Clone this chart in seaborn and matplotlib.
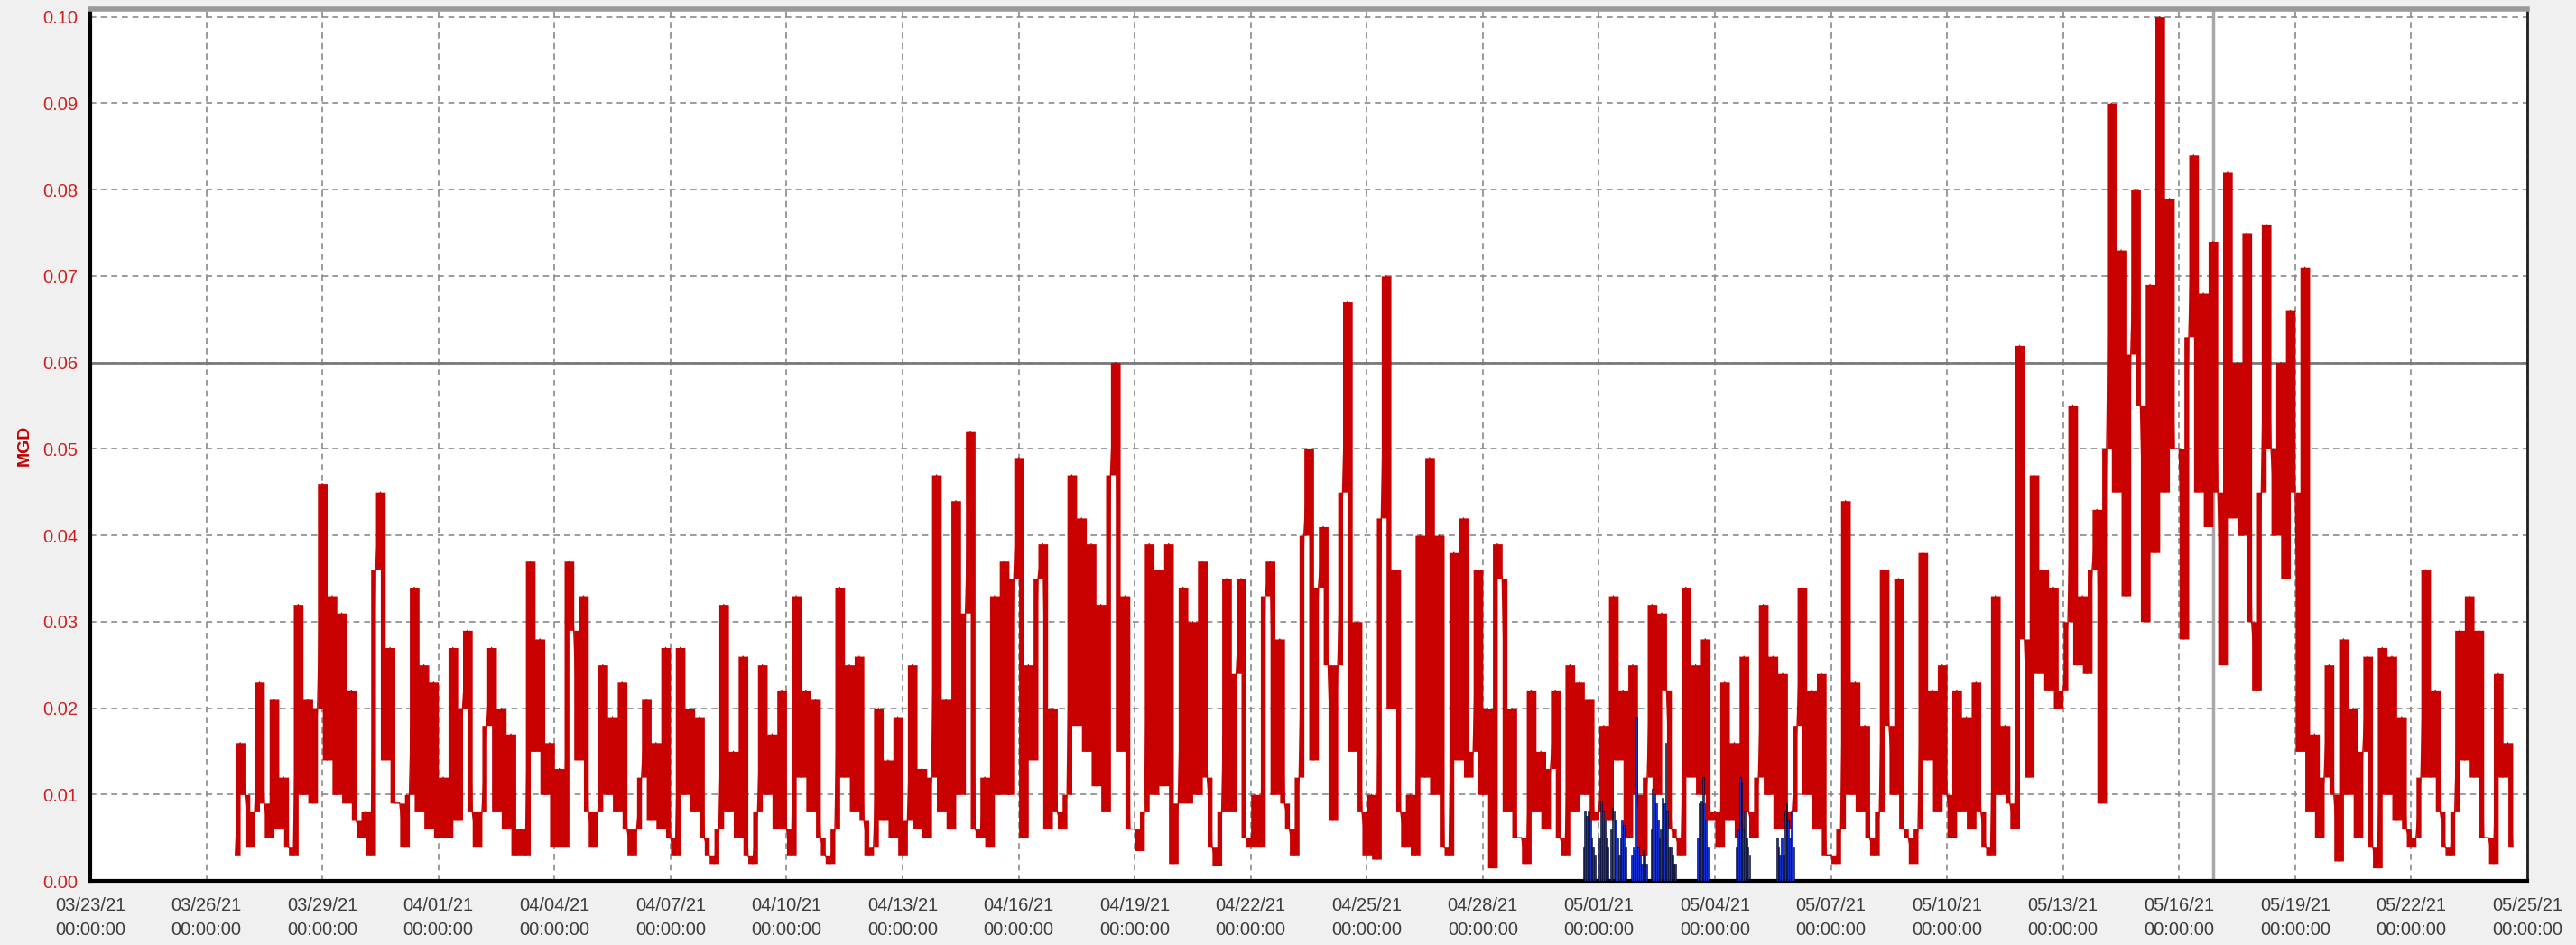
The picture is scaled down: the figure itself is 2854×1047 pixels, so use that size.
import numpy as np
import pandas as pd
import matplotlib
matplotlib.use("Agg")
import matplotlib.pyplot as plt
import matplotlib.dates as mdates
from matplotlib.ticker import FixedLocator, MultipleLocator, FormatStrFormatter
import seaborn as sns

# Flow readings in thousandths of MGD, one value every 3 hours
# (00, 03, 06, 09, 12, 15, 18, 21 h), starting 2021-03-26 18:00.
flow_mar = [
    3, 16,                              # 03/26 (18h, 21h)
    10, 4, 8, 23, 9, 5, 21, 6,          # 03/27
    12, 4, 3, 32, 10, 21, 9, 20,        # 03/28
    46, 14, 33, 10, 31, 9, 22, 7,       # 03/29
    5, 8, 3, 36, 45, 14, 27, 9,         # 03/30
    9, 4, 10, 34, 8, 25, 6, 23,         # 03/31
]
flow_apr = [
    5, 12, 5, 27, 7, 20, 29, 8,         # 04/01
    4, 8, 18, 27, 8, 20, 6, 17,         # 04/02
    3, 6, 3, 37, 15, 28, 10, 16,        # 04/03
    4, 13, 4, 37, 29, 14, 33, 8,        # 04/04
    4, 8, 25, 10, 19, 8, 23, 6,         # 04/05
    3, 6, 12, 21, 7, 16, 6, 27,         # 04/06
    5, 3, 27, 10, 20, 8, 19, 5,         # 04/07
    3, 2, 6, 32, 8, 15, 5, 26,          # 04/08
    3, 2, 8, 25, 10, 17, 6, 22,         # 04/09
    6, 3, 33, 12, 22, 8, 21, 5,         # 04/10
    3, 2, 6, 34, 12, 25, 8, 26,         # 04/11
    7, 3, 4, 20, 7, 14, 5, 19,          # 04/12
    3, 7, 25, 6, 13, 5, 12, 47,         # 04/13
    8, 21, 6, 44, 10, 31, 52, 6,        # 04/14
    5, 12, 4, 33, 10, 37, 10, 35,       # 04/15
    49, 5, 25, 14, 35, 39, 6, 20,       # 04/16
    8, 6, 10, 47, 18, 42, 15, 39,       # 04/17
    11, 32, 8, 47, 60, 15, 33, 6,       # 04/18
    6, 3.5, 8, 39, 10, 36, 11, 39,      # 04/19
    2, 9, 34, 9, 30, 10, 37, 12,        # 04/20
    4, 1.8, 8, 35, 8, 24, 35, 5,        # 04/21
    4, 10, 4, 33, 37, 10, 28, 9,        # 04/22
    6, 3, 12, 40, 50, 14, 34, 41,       # 04/23
    25, 7, 25, 45, 67, 15, 30, 8,       # 04/24
    3, 10, 2.5, 42, 70, 20, 36, 8,      # 04/25
    4, 10, 3, 40, 12, 49, 10, 40,       # 04/26
    4, 3, 38, 14, 42, 12, 15, 36,       # 04/27
    10, 20, 1.5, 39, 35, 8, 20, 5,      # 04/28
    5, 2, 22, 8, 15, 6, 13, 22,         # 04/29
    5, 3, 25, 8, 23, 10, 21, 7,         # 04/30
]
flow_may = [
    8, 18, 7, 33, 14, 22, 5, 25,        # 05/01
    10, 3, 12, 32, 10, 31, 22, 6,       # 05/02
    5, 3, 34, 12, 25, 10, 28, 7,        # 05/03
    8, 4, 23, 7, 16, 5, 26, 8,          # 05/04
    5, 12, 32, 10, 26, 6, 24, 6,        # 05/05
    8, 18, 34, 10, 22, 6, 24, 3,        # 05/06
    3, 2, 6, 44, 10, 23, 8, 18,         # 05/07
    5, 3, 8, 36, 18, 10, 35, 6,         # 05/08
    5, 2, 6, 38, 14, 22, 8, 25,         # 05/09
    10, 5, 22, 8, 19, 6, 23, 8,         # 05/10
    4, 3, 33, 10, 18, 9, 6, 62,         # 05/11
    28, 12, 47, 24, 36, 22, 34, 20,     # 05/12
    22, 30, 55, 25, 33, 24, 36, 43,     # 05/13
    9, 50, 90, 45, 73, 33, 61, 80,      # 05/14
    55, 30, 69, 38, 100, 45, 79, 50,    # 05/15
    50, 28, 63, 84, 45, 68, 41, 74,     # 05/16
    45, 25, 82, 42, 60, 40, 75, 30,     # 05/17
    22, 45, 76, 50, 40, 60, 35, 66,     # 05/18
    45, 15, 71, 8, 17, 5, 12, 25,       # 05/19
    10, 2.3, 28, 10, 20, 5, 15, 26,     # 05/20
    4, 1.5, 27, 10, 26, 7, 19, 6,       # 05/21
    4, 5, 12, 36, 12, 22, 8, 4,         # 05/22
    3, 8, 29, 14, 33, 12, 29, 5,        # 05/23
    5, 2, 24, 12, 16, 4,                # 05/24 (to 15h)
]
flow_start = "2021-03-26 18:00"

# Hourly bars (thousandths of MGD), hours counted from 2021-04-30 00:00
bar_start = "2021-04-30 00:00"
bar_hours = [14, 15, 16, 17, 18, 19, 20, 21,
             24, 25, 26, 27, 28, 29,
             31, 32, 33, 34, 35, 36,
             37, 38, 39, 40,
             44, 45, 46, 47, 48, 49, 50, 51, 52, 53,
             56, 57, 58, 59, 60, 61, 62, 63, 64, 65, 66, 67, 68, 69, 70, 71,
             85, 86, 87, 88, 89, 90, 91,
             109, 110, 111, 112, 113, 114, 115, 116, 117,
             134, 135, 136, 137, 138, 139, 140, 141, 142, 143, 144]
bar_vals = [4, 8, 7.5, 8, 7, 5, 4, 3,
            5, 9.2, 8, 7, 5, 4,
            6, 8.5, 8, 7, 5, 3,
            5, 7, 6.5, 4,
            3, 4, 3.5, 19, 4, 3, 2, 3.5, 3, 2,
            6, 10.7, 10, 9, 7, 5, 6, 9.6, 9, 16, 8, 4, 4, 3, 2, 2,
            5, 9, 9.2, 12, 9, 7, 4,
            4, 6, 12, 11.5, 6, 8, 5, 4, 3,
            5, 4, 3, 5, 3, 8, 9, 7, 5, 8, 4]

# Reference lines
limit_mgd = 0.06
cursor_time = "2021-05-16 21:15"

# Axis extent and tick labels
x_start, x_end = "2021-03-23", "2021-05-25"
y_ticks = [0.00, 0.01, 0.02, 0.03, 0.04, 0.05, 0.06, 0.07, 0.08, 0.09, 0.10]

RED = "#c80000"

sns.set_style("white")
plt.rcParams["font.family"] = ["Liberation Sans", "DejaVu Sans"]

flow = np.array(flow_mar + flow_apr + flow_may, dtype=float) / 1000.0
times = pd.date_range(flow_start, periods=len(flow), freq="3h")
df = pd.DataFrame({"time": times, "MGD": flow})

fig = plt.figure(figsize=(28.54, 10.47), dpi=100, facecolor="#f0f0f0")
ax = fig.add_axes([100 / 2854, 71 / 1047, 2700 / 2854, 966 / 1047])
ax.set_facecolor("white")

# Each 3-hour step is shaded between its own reading and the next one,
# and the readings are joined on top by a thin trace.
band_lo = np.append(np.minimum(flow[:-1], flow[1:]), flow[-1])
band_hi = np.append(np.maximum(flow[:-1], flow[1:]), flow[-1])
ax.fill_between(times, band_lo, band_hi, step="post", color=RED,
                linewidth=0, zorder=3)
sns.lineplot(data=df, x="time", y="MGD", ax=ax, color=RED, linewidth=1.0,
             estimator=None, zorder=3)

bar_t = pd.Timestamp(bar_start) + pd.to_timedelta(bar_hours, unit="h")
ax.bar(mdates.date2num(bar_t), np.array(bar_vals) / 1000.0, width=1 / 24,
       align="edge", color="#1530d0", edgecolor="black", linewidth=0.4,
       zorder=4)

ax.axhline(limit_mgd, color="#7a7a7a", linewidth=2.0, zorder=2)
ax.axvline(pd.Timestamp(cursor_time), color="#a8a8a8", linewidth=2.5, zorder=2)

ax.set_xlim(pd.Timestamp(x_start), pd.Timestamp(x_end))
ax.set_ylim(0, 0.1009)

major_x = pd.date_range(x_start, x_end, freq="3D")
ax.xaxis.set_major_locator(FixedLocator(mdates.date2num(major_x)))
ax.xaxis.set_major_formatter(mdates.DateFormatter("%m/%d/%y\n%H:%M:%S"))
x0 = mdates.date2num(pd.Timestamp(x_start))
x1 = mdates.date2num(pd.Timestamp(x_end))
ax.xaxis.set_minor_locator(FixedLocator(np.arange(x0, x1 + 0.01, 0.6)))

ax.yaxis.set_major_locator(FixedLocator(y_ticks))
ax.yaxis.set_major_formatter(FormatStrFormatter("%.2f"))
ax.yaxis.set_minor_locator(MultipleLocator(0.002))

ax.grid(True, which="major", color="#8a8a8a", linestyle=(0, (4, 3)),
        linewidth=1.2, zorder=1)
ax.set_axisbelow(True)

ax.tick_params(axis="x", which="major", direction="out", length=8, width=1.2,
               color="black", labelsize=14.5, labelcolor="#3c3c3c", pad=5)
ax.tick_params(axis="x", which="minor", direction="out", length=5, width=1.0,
               color="black")
ax.tick_params(axis="y", which="major", direction="out", length=6, width=1.2,
               color="black", labelsize=14.5, labelcolor="#d02020", pad=4)
ax.tick_params(axis="y", which="minor", direction="out", length=4, width=1.0,
               color="black")
for lbl in ax.get_xticklabels():
    lbl.set_linespacing(1.55)

ax.set_xlabel("")
ax.set_ylabel("MGD", color="#c00000", fontsize=14, fontweight="bold",
              labelpad=8)

for side in ["left", "bottom"]:
    ax.spines[side].set_color("black")
    ax.spines[side].set_linewidth(3)
ax.spines["right"].set_color("#202020")
ax.spines["right"].set_linewidth(2)
ax.spines["top"].set_color("#9a9a9a")
ax.spines["top"].set_linewidth(4)

fig.savefig("out.png", dpi=100, facecolor=fig.get_facecolor())
